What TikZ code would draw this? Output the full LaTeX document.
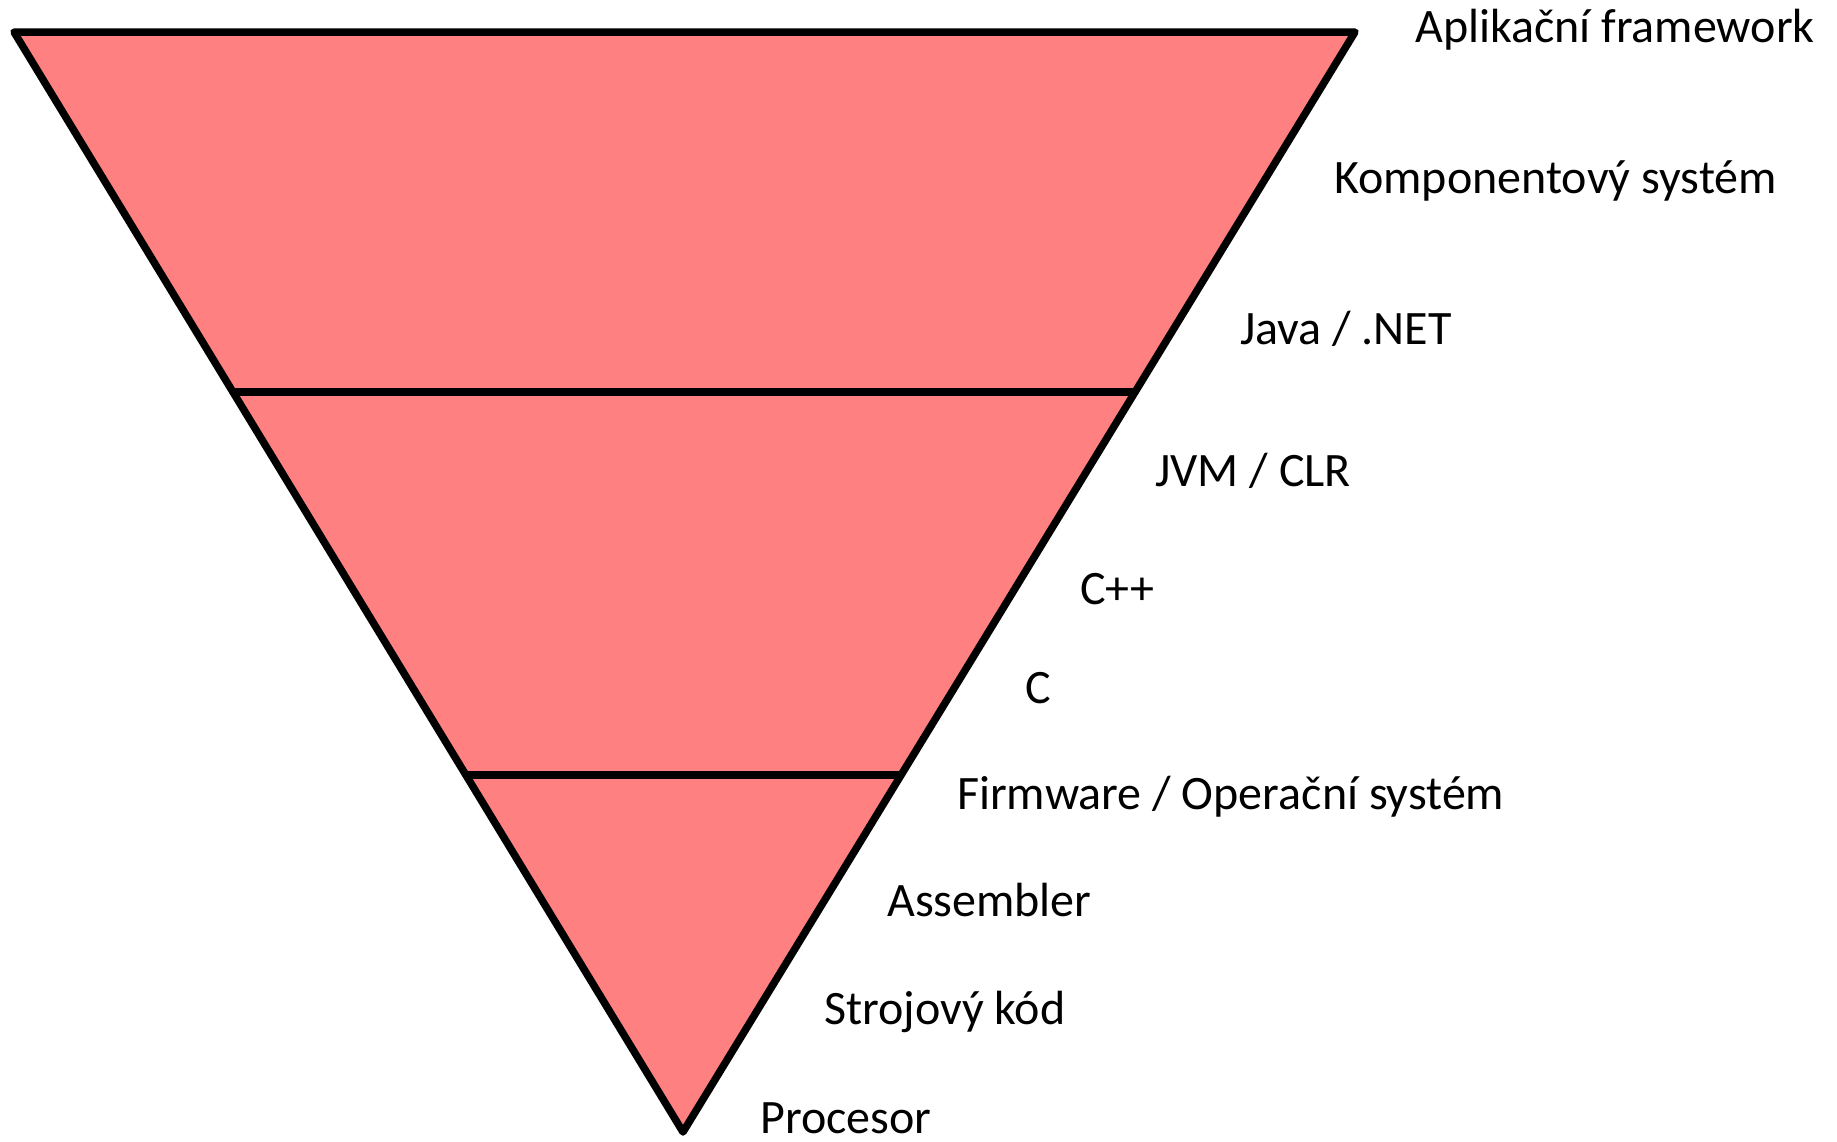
\documentclass[tikz,border=0pt]{standalone}
\usepackage{fontspec}
\setmainfont{Carlito}
\definecolor{layerfill}{HTML}{FF8080}
\begin{document}
\begin{tikzpicture}[x=1pt,y=-1pt,
  edge/.style={line width=7.5pt,line join=round,line cap=round},
  lbl/.style={anchor=base west,inner sep=0pt,font=\fontsize{48}{52}\selectfont}]
\useasboundingbox (0,0) rectangle (1837,1141);
\coordinate (tl) at (14,32);
\coordinate (tr) at (1355,32);
\coordinate (bt) at (683,1132);
\coordinate (l1) at (233,392);
\coordinate (r1) at (1135,392);
\coordinate (l2) at (467,775);
\coordinate (r2) at (901,775);
\fill[layerfill] (tl) -- (tr) -- (bt) -- cycle;
\draw[edge] (l1) -- (r1);
\draw[edge] (l2) -- (r2);
\draw[edge] (tl) -- (tr) -- (bt) -- cycle;
\node[lbl] (t1) at (1415,42) {Aplikační framework};
\node[lbl] (t2) at (1334,193) {Komponentový systém};
\node[lbl] (t3) at (1240,344) {Java / .NET};
\node[lbl] (t4) at (1155,486) {JVM / CLR};
\node[lbl] (t5) at (1080,604) {C++};
\node[lbl] (t6) at (1025,703) {C};
\node[lbl] (t7) at (957,809) {Firmware / Operační systém};
\node[lbl] (t8) at (887,916) {Assembler};
\node[lbl] (t9) at (824,1024) {Strojový kód};
\node[lbl] (t10) at (760,1133) {Procesor};
\end{tikzpicture}
\end{document}
